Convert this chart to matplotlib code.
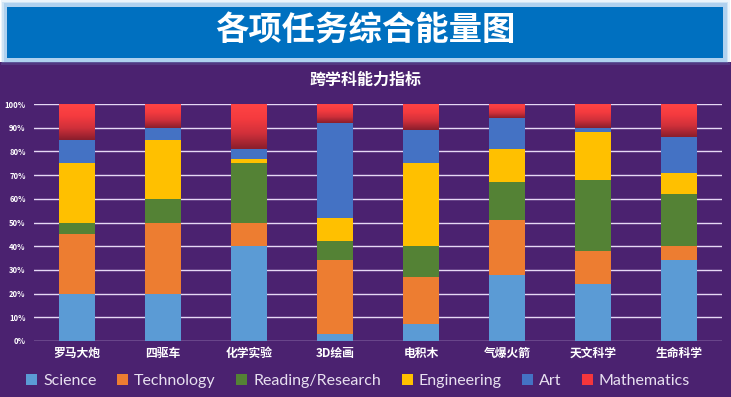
import numpy as np
import matplotlib
matplotlib.use('Agg')
from matplotlib import pyplot as plt
from matplotlib.patches import Rectangle, Patch
from matplotlib.colors import LinearSegmentedColormap

plt.rcParams['font.family'] = ['Noto Sans CJK SC', 'DejaVu Sans']

# 数据
categories = ['罗马大炮', '四驱车', '化学实验', '3D绘画', '电积木', '气爆火箭', '天文科学', '生命科学']
science = [20, 20, 40, 3, 7, 28, 24, 34]
technology = [25, 30, 10, 31, 20, 23, 14, 6]
reading = [5, 10, 25, 8, 13, 16, 30, 22]
engineering = [25, 25, 2, 10, 35, 14, 20, 9]
art = [10, 5, 4, 40, 14, 13, 2, 15]
mathematics = [15, 10, 19, 8, 11, 6, 10, 14]
series_names = ['Science', 'Technology', 'Reading/Research', 'Engineering', 'Art', 'Mathematics']
colors = ['#5B9BD5', '#ED7D31', '#548235', '#FFC000', '#4472C4', '#F5363C']

W, H = 731, 397
fig = plt.figure(figsize=(W / 100, H / 100), dpi=100)
fig.patch.set_facecolor('white')

# 紫色背景
fig.patches.append(Rectangle((0, 0), 1, 1 - 62 / H, transform=fig.transFigure,
                             facecolor='#4B2270', edgecolor='none', zorder=-3))
# 标题横幅 (带白色光晕)
for i, a in enumerate([0.15, 0.25, 0.4]):
    pad = (3 - i) * 1.5
    fig.patches.append(Rectangle(((5 - pad) / W, 1 - (60 + pad) / H), (720 + 2 * pad) / W,
                                 (55 + 2 * pad) / H, transform=fig.transFigure,
                                 facecolor='#7FB6E6', alpha=a, edgecolor='none', zorder=-2))
fig.patches.append(Rectangle((7 / W, 1 - 58 / H), 716 / W, 51 / H, transform=fig.transFigure,
                             facecolor='#0070C0', edgecolor='none', zorder=-1))
fig.text(0.5, 1 - 31 / H, '各项任务综合能量图', ha='center', va='center', color='white',
         fontsize=24, fontweight='bold')
fig.text(0.5, 1 - 80 / H, '跨学科能力指标', ha='center', va='center', color='white',
         fontsize=11.5, fontweight='bold')

ax = fig.add_axes([34 / W, (H - 341) / H, 688 / W, 237 / H])
ax.set_facecolor('none')
ax.set_zorder(5)

data = np.array([science, technology, reading, engineering, art, mathematics], dtype=float)
data = data / data.sum(axis=0)
x = np.arange(len(categories))
bw = 0.41
bottom = np.zeros(len(categories))
math_cmap = LinearSegmentedColormap.from_list('m', ['#8A1E2C', '#D0303A', '#F53B3F', '#FF4444'])
grad = np.linspace(0, 1, 100).reshape(-1, 1)
for k in range(len(series_names)):
    if series_names[k] == 'Mathematics':
        for i in range(len(x)):
            ax.imshow(grad, cmap=math_cmap, origin='lower', aspect='auto', zorder=3,
                      extent=(x[i] - bw / 2, x[i] + bw / 2, bottom[i], bottom[i] + data[k][i]))
    else:
        ax.bar(x, data[k], bw, bottom=bottom, color=colors[k], zorder=3)
    bottom += data[k]

ax.set_xlim(-0.5, len(categories) - 0.5)
ax.set_ylim(0, 1)
ax.set_yticks(np.arange(0, 1.01, 0.1))
ax.set_yticklabels([f'{int(round(v * 100))}%' for v in np.arange(0, 1.01, 0.1)],
                   fontsize=5.5, fontweight='bold', color='white')
ax.set_xticks(x)
ax.set_xticklabels(categories, fontsize=8.5, fontweight='bold', color='white')
ax.tick_params(length=0, pad=4)
ax.tick_params(axis='y', pad=6)
ax.grid(axis='y', color='#E6D8F5', linewidth=1, zorder=1)
ax.set_axisbelow(True)
for s in ax.spines.values():
    s.set_visible(False)

handles = [Patch(facecolor=c, edgecolor='none') for c in colors]
leg = fig.legend(handles, series_names, loc='center', bbox_to_anchor=(0.49, 1 - 381 / H),
                 ncol=6, frameon=False, handlelength=0.7, handleheight=0.7,
                 handletextpad=0.35, columnspacing=1.3,
                 prop={'family': 'Lato', 'size': 11.5})
for t in leg.get_texts():
    t.set_color('#E8E0F0')

plt.savefig('out.png', dpi=100, facecolor=fig.get_facecolor())
